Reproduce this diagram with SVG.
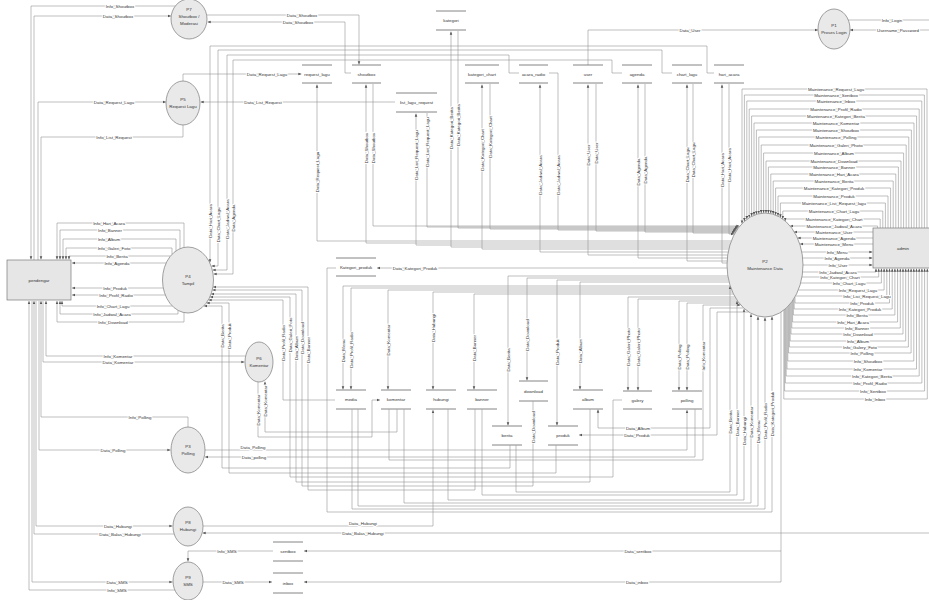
<svg xmlns="http://www.w3.org/2000/svg" width="929" height="600" viewBox="0 0 929 600" font-family="'Liberation Sans', Arial, sans-serif">
<defs>
<marker id="ah" viewBox="0 0 6 6" refX="6" refY="3" markerWidth="3.2" markerHeight="3.2" markerUnits="userSpaceOnUse" orient="auto"><path d="M0,0.6L6,3L0,5.4z" fill="#555"/></marker>
<style>
.c{fill:none;stroke:#939393;stroke-width:0.6}
.a{marker-end:url(#ah)}
text{font-family:'Liberation Sans',Arial,sans-serif}
.t{font-size:4.4px;fill:#333;text-anchor:middle}
.h{paint-order:stroke;stroke:#fff;stroke-width:2.2px;stroke-linejoin:round}
.pr{fill:#e9e9e9;stroke:#7a7a7a;stroke-width:0.7}
.bx{fill:#e6e6e6;stroke:#7a7a7a;stroke-width:0.7}
.ds{stroke:#666;stroke-width:0.8}
</style>
</defs>
<rect width="929" height="600" fill="#fff"/>
<g id="connectors">
<path class="c a" d="M175,6H31V259.5"/>
<path class="c a" d="M34,260V16H171"/>
<path class="c a" d="M38,260V102H166"/>
<path class="c a" d="M183,125V137H41V259.5"/>
<path class="c a" d="M207,15H359V64.5"/>
<path class="c a" d="M351,73H345V22H207.5"/>
<path class="c a" d="M183,81V74H301.5"/>
<path class="c a" d="M395,102H200.5"/>
<path class="c a" d="M588,65V30H818"/>
<path class="c" d="M848,20H929"/>
<path class="c a" d="M929,30H850"/>
<path class="c a" d="M714,73H707V46H210V262.5"/>
<path class="c a" d="M672,73H662V50H218V266H211.5"/>
<path class="c a" d="M519,73H509V55H227V270H212.5"/>
<path class="c a" d="M622,73H612V60H233V274H213.5"/>
<path class="c a" d="M184,247.2V223H57V259.5"/>
<path class="c a" d="M180,248.7V230H60V259.5"/>
<path class="c a" d="M176,251V239H63V259.5"/>
<path class="c a" d="M172,254.3V248H66V259.5"/>
<path class="c a" d="M170.5,256H69V259.5"/>
<path class="c a" d="M166,263H72"/>
<path class="c a" d="M163.3,288H72"/>
<path class="c a" d="M165.3,295H72"/>
<path class="c a" d="M172.3,306H62V301"/>
<path class="c a" d="M178,310.4V314H60V301"/>
<path class="c a" d="M184,312.8V322H57V301"/>
<path class="c a" d="M245.6,356H46V301"/>
<path class="c a" d="M43,301V362H244.5"/>
<path class="c a" d="M188,427V417H41V301"/>
<path class="c a" d="M39,301V450H170.5"/>
<path class="c a" d="M36,301V526H172.5"/>
<path class="c a" d="M174,534H34V301"/>
<path class="c a" d="M32,301V582H172.5"/>
<path class="c a" d="M175,590H29V301"/>
<path class="c a" d="M258,382V437H372V400H380"/>
<path class="c a" d="M397,409.5V432H265V381.5"/>
<path class="c a" d="M205,450H687V410"/>
<path class="c a" d="M695,409.5V457H205"/>
<path class="c a" d="M202,526H433V410"/>
<path class="c a" d="M929,533H202.5"/>
<path class="c a" d="M273,551H188V561.5"/>
<path class="c a" d="M203,582H272"/>
<path class="c a" d="M781,312V551H304"/>
<path class="c a" d="M781,551V582H304"/>
<path class="c a" d="M373,84V226H739.5"/>
<path class="c a" d="M427,113V227H738.5"/>
<path class="c a" d="M458,31V228H738"/>
<path class="c a" d="M490,84V229H737.3"/>
<path class="c a" d="M549,73H558V230H736.6"/>
<path class="c a" d="M596,84V231H736"/>
<path class="c a" d="M645,84V232H735.3"/>
<path class="c a" d="M693,84V233H734.7"/>
<path class="c a" d="M729,84V234H734.2"/>
<path class="c a" d="M731,241H317V84.5"/>
<path class="c a" d="M730.5,243H366V84.5"/>
<path class="c a" d="M730,245H416V113.5"/>
<path class="c a" d="M729.5,247H451V31.5"/>
<path class="c a" d="M729,249H482V84.5"/>
<path class="c a" d="M728.2,252H540V84.5"/>
<path class="c a" d="M727.7,255H588V84.5"/>
<path class="c a" d="M727.3,258H638V84.5"/>
<path class="c a" d="M727.1,261H687V84.5"/>
<path class="c a" d="M727,263H722V84.5"/>
<path class="c a" d="M727.1,268H377"/>
<path class="c a" d="M728,276H508V425.5"/>
<path class="c a" d="M728.2,278H527V380.5"/>
<path class="c a" d="M728.6,280H557V425.5"/>
<path class="c a" d="M729.1,282H580V389.5"/>
<path class="c a" d="M730.2,286H343V389.5"/>
<path class="c a" d="M730.9,288H351V389.5"/>
<path class="c a" d="M731.7,290H388V389.5"/>
<path class="c a" d="M732.5,292H433V389.5"/>
<path class="c a" d="M733.5,294H474V389.5"/>
<path class="c a" d="M735,297H628V390.5"/>
<path class="c a" d="M736.2,299H638V390.5"/>
<path class="c a" d="M737.6,301H679V390.5"/>
<path class="c a" d="M739,303H687V390.5"/>
<path class="c a" d="M516,445.5V492H730V286"/>
<path class="c a" d="M482,409.5V495H737V301"/>
<path class="c a" d="M448,409.5V500H744V309"/>
<path class="c a" d="M404,409.5V503H751V314"/>
<path class="c a" d="M358,409.5V506H758V316.6"/>
<path class="c a" d="M352,409.5V509H765V317.5"/>
<path class="c a" d="M336,268H327V512H772V316.6"/>
<path class="c a" d="M510,445.5V468H222V306H204"/>
<path class="c a" d="M556,445.5V473H229V303H206.5"/>
<path class="c a" d="M335,400H283V300H208.5"/>
<path class="c a" d="M622,400H613V477H290V297H210"/>
<path class="c a" d="M590,409.5V482H296V294H211"/>
<path class="c a" d="M533,401.5V486H302V290H212.3"/>
<path class="c a" d="M475,409.5V490H308V287H213"/>
<path class="c a" d="M743.6,308H710V428H598V409.5"/>
<path class="c a" d="M748.7,312H717V435H579"/>
<path class="c a" d="M389,409.5V460H703V305H740.5"/>
<path class="c a" d="M927,228V89H742V223.6"/>
<path class="c a" d="M924.4,228V95H744.4V221.3"/>
<path class="c a" d="M921.8,228V101H746.8V219.3"/>
<path class="c a" d="M919.2,228V109H749.2V217.7"/>
<path class="c a" d="M916.6,228V116H751.6V216.3"/>
<path class="c a" d="M914,228V123H754V215.2"/>
<path class="c a" d="M911.4,228V130H756.4V214.4"/>
<path class="c a" d="M908.8,228V137H758.8V213.7"/>
<path class="c a" d="M906.2,228V145H761.2V213.3"/>
<path class="c a" d="M903.6,228V153H763.6V213"/>
<path class="c a" d="M901,228V161H766V213"/>
<path class="c a" d="M898.4,228V167H768.4V213.2"/>
<path class="c a" d="M895.8,228V174H770.8V213.6"/>
<path class="c a" d="M893.2,228V181H773.2V214.2"/>
<path class="c a" d="M890.6,228V188H775.6V215.1"/>
<path class="c a" d="M888,228V196H778V216.1"/>
<path class="c a" d="M885.4,228V203H780.4V217.5"/>
<path class="c a" d="M882.8,228V211H782.8V219"/>
<path class="c a" d="M880.2,228V219H785.2V221"/>
<path class="c a" d="M877.6,228V226H790.1"/>
<path class="c a" d="M873,232H794"/>
<path class="c a" d="M873,238H797.5"/>
<path class="c a" d="M873,244H800"/>
<path class="c a" d="M801.8,252H872.5"/>
<path class="c a" d="M802.7,258H872.5"/>
<path class="c a" d="M803,265H872.5"/>
<path class="c a" d="M802.7,272H876V268.5"/>
<path class="c a" d="M802,277H878.7V268.5"/>
<path class="c a" d="M800.6,283H881.4V268.5"/>
<path class="c a" d="M798.3,290H884.1V268.5"/>
<path class="c a" d="M795.5,296H886.8V268.5"/>
<path class="c a" d="M795,296.9V303H889.5V268.5"/>
<path class="c a" d="M794.2,298.3V309H892.2V268.5"/>
<path class="c a" d="M793.4,299.5V315H894.9V268.5"/>
<path class="c a" d="M792.6,300.7V322H897.6V268.5"/>
<path class="c a" d="M791.8,301.9V328H900.3V268.5"/>
<path class="c a" d="M791,302.9V334H903V268.5"/>
<path class="c a" d="M790.2,303.9V341H905.7V268.5"/>
<path class="c a" d="M789.4,304.9V347H908.4V268.5"/>
<path class="c a" d="M788.6,305.8V353H911.1V268.5"/>
<path class="c a" d="M787.8,306.6V361H913.8V268.5"/>
<path class="c a" d="M787,307.4V369H916.5V268.5"/>
<path class="c a" d="M786.2,308.2V376H919.2V268.5"/>
<path class="c a" d="M785.4,308.9V383H921.9V268.5"/>
<path class="c a" d="M784.6,309.6V391H924.6V268.5"/>
<path class="c a" d="M783.8,310.2V399H927.3V268.5"/>
<g id="connector-labels">
<text class="t h" x="120" y="7.5">Info_Shoutbox</text>
<text class="t h" x="118" y="17.5">Data_Shoutbox</text>
<text class="t h" x="114" y="103.5">Data_Request_Lagu</text>
<text class="t h" x="114" y="138.5">Info_List_Request</text>
<text class="t h" x="302" y="16.5">Data_Shoutbox</text>
<text class="t h" x="298" y="23.5">Data_Shoutbox</text>
<text class="t h" x="267" y="75.5">Data_Request_Lagu</text>
<text class="t h" x="263" y="103.5">Data_List_Request</text>
<text class="t h" x="690" y="31.5">Data_User</text>
<text class="t h" x="892" y="21.5">Info_Login</text>
<text class="t h" x="898" y="31.5">Username_Password</text>
<text class="t h" transform="translate(210,221) rotate(-90)" y="1.5">Data_Hari_Acara</text>
<text class="t h" transform="translate(218,225) rotate(-90)" y="1.5">Data_Chart_Lagu</text>
<text class="t h" transform="translate(227,219) rotate(-90)" y="1.5">Data_Jadwal_Acara</text>
<text class="t h" transform="translate(233,218) rotate(-90)" y="1.5">Data_Agenda</text>
<text class="t h" x="109" y="224.5">Info_Hari_Acara</text>
<text class="t h" x="110" y="231.5">Info_Banner</text>
<text class="t h" x="109" y="240.5">Info_Album</text>
<text class="t h" x="114" y="249.5">Info_Galeri_Foto</text>
<text class="t h" x="117" y="257.5">Info_Berita</text>
<text class="t h" x="117" y="264.5">Info_Agenda</text>
<text class="t h" x="115" y="289.5">Info_Produk</text>
<text class="t h" x="116" y="296.5">Info_Profil_Radio</text>
<text class="t h" x="113" y="307.5">Info_Chart_Lagu</text>
<text class="t h" x="112" y="315.5">Info_Jadwal_Acara</text>
<text class="t h" x="113" y="323.5">Info_Download</text>
<text class="t h" x="118" y="357.5">Info_Komentar</text>
<text class="t h" x="118" y="363.5">Data_Komentar</text>
<text class="t h" x="140" y="418.5">Info_Polling</text>
<text class="t h" x="113" y="451.5">Data_Polling</text>
<text class="t h" x="118" y="527.5">Data_Hubungi</text>
<text class="t h" x="120" y="535.5">Data_Balas_Hubungi</text>
<text class="t h" x="117" y="583.5">Data_SMS</text>
<text class="t h" x="117" y="591.5">Info_SMS</text>
<text class="t h" transform="translate(258,410) rotate(-90)" y="1.5">Data_Komentar</text>
<text class="t h" transform="translate(265,401) rotate(-90)" y="1.5">Data_Komentar</text>
<text class="t h" x="253" y="449">Data_Polling</text>
<text class="t h" x="254" y="458.5">Data_polling</text>
<text class="t h" x="363" y="525">Data_Hubungi</text>
<text class="t h" x="363" y="534.5">Data_Balas_Hubungi</text>
<text class="t h" x="227" y="552.5">Info_SMS</text>
<text class="t h" x="233" y="583.5">Data_SMS</text>
<text class="t h" x="638" y="552.5">Data_sentbox</text>
<text class="t h" x="637" y="583.5">Data_inbox</text>
<text class="t h" transform="translate(317,172) rotate(-90)" y="1.5">Data_Request_Lagu</text>
<text class="t h" transform="translate(366,148) rotate(-90)" y="1.5">Data_Shoutbox</text>
<text class="t h" transform="translate(373,148) rotate(-90)" y="1.5">Data_Shoutbox</text>
<text class="t h" transform="translate(416,155) rotate(-90)" y="1.5">Data_List_Request_Lagu</text>
<text class="t h" transform="translate(427,142) rotate(-90)" y="1.5">Data_List_Request_Lagu</text>
<text class="t h" transform="translate(451,128) rotate(-90)" y="1.5">Data_Kategori_Berita</text>
<text class="t h" transform="translate(458,125) rotate(-90)" y="1.5">Data_Kategori_Berita</text>
<text class="t h" transform="translate(482,150) rotate(-90)" y="1.5">Data_Kategori_Chart</text>
<text class="t h" transform="translate(490,137) rotate(-90)" y="1.5">Data_Kategori_Chart</text>
<text class="t h" transform="translate(540,175) rotate(-90)" y="1.5">Data_Jadwal_Acara</text>
<text class="t h" transform="translate(558,175) rotate(-90)" y="1.5">Data_Jadwal_Acara</text>
<text class="t h" transform="translate(588,155) rotate(-90)" y="1.5">Data_User</text>
<text class="t h" transform="translate(596,153) rotate(-90)" y="1.5">Data_User</text>
<text class="t h" transform="translate(638,172) rotate(-90)" y="1.5">Data_Agenda</text>
<text class="t h" transform="translate(645,170) rotate(-90)" y="1.5">Data_Agenda</text>
<text class="t h" transform="translate(687,165) rotate(-90)" y="1.5">Data_Chart_Lagu</text>
<text class="t h" transform="translate(693,160) rotate(-90)" y="1.5">Data_Chart_Lagu</text>
<text class="t h" transform="translate(722,170) rotate(-90)" y="1.5">Data_Hari_Acara</text>
<text class="t h" transform="translate(729,165) rotate(-90)" y="1.5">Data_Hari_Acara</text>
<text class="t h" x="415" y="269.5">Data_Kategori_Produk</text>
<text class="t h" transform="translate(343,351) rotate(-90)" y="1.5">Data_Menu</text>
<text class="t h" transform="translate(351,350) rotate(-90)" y="1.5">Data_Profil_Radio</text>
<text class="t h" transform="translate(388,340) rotate(-90)" y="1.5">Data_Komentar</text>
<text class="t h" transform="translate(433,328) rotate(-90)" y="1.5">Data_Hubungi</text>
<text class="t h" transform="translate(474,348) rotate(-90)" y="1.5">Data_Banner</text>
<text class="t h" transform="translate(508,360) rotate(-90)" y="1.5">Data_Berita</text>
<text class="t h" transform="translate(527,335) rotate(-90)" y="1.5">Data_Download</text>
<text class="t h" transform="translate(557,352) rotate(-90)" y="1.5">Data_Produk</text>
<text class="t h" transform="translate(580,351) rotate(-90)" y="1.5">Data_Album</text>
<text class="t h" transform="translate(628,347) rotate(-90)" y="1.5">Data_Galeri_Photo</text>
<text class="t h" transform="translate(638,347) rotate(-90)" y="1.5">Data_Galeri_Photo</text>
<text class="t h" transform="translate(679,357) rotate(-90)" y="1.5">Data_Polling</text>
<text class="t h" transform="translate(687,357) rotate(-90)" y="1.5">Data_Polling</text>
<text class="t h" transform="translate(222,336) rotate(-90)" y="1.5">Data_Berita</text>
<text class="t h" transform="translate(229,336) rotate(-90)" y="1.5">Data_Produk</text>
<text class="t h" transform="translate(283,343) rotate(-90)" y="1.5">Data_Profil_Radio</text>
<text class="t h" transform="translate(290,335) rotate(-90)" y="1.5">Data_Galeri_Foto</text>
<text class="t h" transform="translate(296,348) rotate(-90)" y="1.5">Data_Album</text>
<text class="t h" transform="translate(302,338) rotate(-90)" y="1.5">Data_Download</text>
<text class="t h" transform="translate(308,350) rotate(-90)" y="1.5">Data_Banner</text>
<text class="t h" transform="translate(533,427) rotate(-90)" y="1.5">Data_Download</text>
<text class="t h" transform="translate(730,422) rotate(-90)" y="1.5">Data_Berita</text>
<text class="t h" transform="translate(737,423) rotate(-90)" y="1.5">Data_Banner</text>
<text class="t h" transform="translate(744,431) rotate(-90)" y="1.5">Data_Hubungi</text>
<text class="t h" transform="translate(751,422) rotate(-90)" y="1.5">Data_Komentar</text>
<text class="t h" transform="translate(758,432) rotate(-90)" y="1.5">Data_Menu</text>
<text class="t h" transform="translate(765,421) rotate(-90)" y="1.5">Data_Profil_Radio</text>
<text class="t h" transform="translate(772,414) rotate(-90)" y="1.5">Data_Kategori_Produk</text>
<text class="t h" x="638" y="429.5">Data_Album</text>
<text class="t h" x="637" y="436.5">Data_Produk</text>
<text class="t h" transform="translate(703,356) rotate(-90)" y="1.5">Info_Komentar</text>
<text class="t h" x="836" y="90.5">Maintenance_Request_Lagu</text>
<text class="t h" x="836" y="96.5">Maintenance_Sentbox</text>
<text class="t h" x="836" y="102.5">Maintenance_Inbox</text>
<text class="t h" x="836" y="110.5">Maintenance_Profil_Radio</text>
<text class="t h" x="836" y="117.5">Maintenance_Kategori_Berita</text>
<text class="t h" x="836" y="124.5">Maintenance_Komentar</text>
<text class="t h" x="836" y="131.5">Maintenance_Shoutbox</text>
<text class="t h" x="836" y="138.5">Maintenance_Polling</text>
<text class="t h" x="836" y="146.5">Maintenance_Galeri_Photo</text>
<text class="t h" x="834" y="154.5">Maintenance_Album</text>
<text class="t h" x="834" y="162.5">Maintenance_Download</text>
<text class="t h" x="834" y="168.5">Maintenance_Banner</text>
<text class="t h" x="834" y="175.5">Maintenance_Hari_Acara</text>
<text class="t h" x="834" y="182.5">Maintenance_Berita</text>
<text class="t h" x="834" y="189.5">Maintenance_Kategori_Produk</text>
<text class="t h" x="834" y="197.5">Maintenance_Produk</text>
<text class="t h" x="834" y="204.5">Maintenance_List_Request_lagu</text>
<text class="t h" x="834" y="212.5">Maintenance_Chart_Lagu</text>
<text class="t h" x="834" y="220.5">Maintenance_Kategori_Chart</text>
<text class="t h" x="834" y="227.5">Maintenance_Jadwal_Acara</text>
<text class="t h" x="834" y="233.5">Maintenance_User</text>
<text class="t h" x="834" y="239.5">Maintenance_Agenda</text>
<text class="t h" x="834" y="245.5">Maintenance_Menu</text>
<text class="t h" x="837" y="253.5">Info_Menu</text>
<text class="t h" x="837" y="259.5">Info_Agenda</text>
<text class="t h" x="838" y="266.5">Info_User</text>
<text class="t h" x="838" y="273.5">Info_Jadwal_Acara</text>
<text class="t h" x="840" y="278.5">Info_Kategori_Chart</text>
<text class="t h" x="849" y="284.5">Info_Chart_Lagu</text>
<text class="t h" x="858" y="291.5">Info_Request_Lagu</text>
<text class="t h" x="867" y="297.5">Info_List_Request_Lagu</text>
<text class="t h" x="862" y="304.5">Info_Produk</text>
<text class="t h" x="860" y="310.5">Info_Kategori_Produk</text>
<text class="t h" x="857" y="316.5">Info_Berita</text>
<text class="t h" x="853" y="323.5">Info_Hari_Acara</text>
<text class="t h" x="857" y="329.5">Info_Banner</text>
<text class="t h" x="858" y="335.5">Info_Download</text>
<text class="t h" x="858" y="342.5">Info_Album</text>
<text class="t h" x="860" y="348.5">Info_Galery_Foto</text>
<text class="t h" x="862" y="354.5">Info_Polling</text>
<text class="t h" x="868" y="362.5">Info_Shoutbox</text>
<text class="t h" x="868" y="370.5">Info_Komentar</text>
<text class="t h" x="872" y="377.5">Info_Kategori_Berita</text>
<text class="t h" x="870" y="384.5">Info_Profil_Radio</text>
<text class="t h" x="873" y="392.5">Info_Sentbox</text>
<text class="t h" x="875" y="400.5">Info_Inbox</text>
</g>
</g>
<g id="pendengar"><rect class="bx" x="7" y="260" width="64" height="40"/><text class="t" x="39" y="281.5">pendengar</text></g>
<g id="admin"><rect class="bx" x="873" y="228" width="60" height="40"/><text class="t" x="903" y="249.5">admin</text></g>
<g id="p7"><ellipse class="pr" cx="189" cy="19" rx="18" ry="20"/><text class="t" x="189" y="10.5">P7</text><text class="t" x="189" y="17.5">Shoutbox /</text><text class="t" x="189" y="24.5">Moderasi</text></g>
<g id="p5"><ellipse class="pr" cx="183" cy="103" rx="17" ry="22"/><text class="t" x="183" y="100.5">P5</text><text class="t" x="183" y="107.5">Request Lagu</text></g>
<g id="p1"><ellipse class="pr" cx="834" cy="29" rx="16" ry="20"/><text class="t" x="834" y="27">P1</text><text class="t" x="834" y="34">Proses Login</text></g>
<g id="p4"><ellipse class="pr" cx="188" cy="280" rx="25.5" ry="33"/><text class="t" x="188" y="277.5">P4</text><text class="t" x="188" y="284.5">Tampil</text></g>
<g id="p6"><ellipse class="pr" cx="259" cy="362" rx="14" ry="20"/><text class="t" x="259" y="359.5">P6</text><text class="t" x="259" y="366.5">Komentar</text></g>
<g id="p3"><ellipse class="pr" cx="188" cy="450" rx="17" ry="23"/><text class="t" x="188" y="447.5">P3</text><text class="t" x="188" y="454.5">Polling</text></g>
<g id="p8"><ellipse class="pr" cx="188" cy="526.5" rx="15" ry="19.5"/><text class="t" x="188" y="524">P8</text><text class="t" x="188" y="531">Hubungi</text></g>
<g id="p9"><ellipse class="pr" cx="188" cy="581" rx="15" ry="19"/><text class="t" x="188" y="579">P9</text><text class="t" x="188" y="586">SMS</text></g>
<g id="p2"><ellipse class="pr" cx="765" cy="265" rx="38" ry="52"/><text class="t" x="765" y="263">P2</text><text class="t" x="765" y="270">Maintenance Data</text></g>
<g id="store-kategori"><line class="ds" x1="436" y1="11" x2="466" y2="11"/><line class="ds" x1="436" y1="30" x2="466" y2="30"/><text class="t" x="451" y="22">kategori</text></g>
<g id="store-request_lagu"><line class="ds" x1="302" y1="65" x2="332" y2="65"/><line class="ds" x1="302" y1="83" x2="332" y2="83"/><text class="t" x="317" y="75.5">request_lagu</text></g>
<g id="store-shoutbox"><line class="ds" x1="352" y1="65" x2="381" y2="65"/><line class="ds" x1="352" y1="83" x2="381" y2="83"/><text class="t" x="366.5" y="75.5">shoutbox</text></g>
<g id="store-list_lagu_request"><line class="ds" x1="396" y1="93" x2="437" y2="93"/><line class="ds" x1="396" y1="112" x2="437" y2="112"/><text class="t" x="416.5" y="104">list_lagu_request</text></g>
<g id="store-kategori_chart"><line class="ds" x1="465" y1="65" x2="499" y2="65"/><line class="ds" x1="465" y1="83" x2="499" y2="83"/><text class="t" x="482" y="75.5">kategori_chart</text></g>
<g id="store-acara_radio"><line class="ds" x1="519" y1="65" x2="548" y2="65"/><line class="ds" x1="519" y1="83" x2="548" y2="83"/><text class="t" x="533.5" y="75.5">acara_radio</text></g>
<g id="store-user"><line class="ds" x1="573" y1="65" x2="603" y2="65"/><line class="ds" x1="573" y1="83" x2="603" y2="83"/><text class="t" x="588" y="75.5">user</text></g>
<g id="store-agenda"><line class="ds" x1="622" y1="65" x2="652" y2="65"/><line class="ds" x1="622" y1="83" x2="652" y2="83"/><text class="t" x="637" y="75.5">agenda</text></g>
<g id="store-chart_lagu"><line class="ds" x1="672" y1="65" x2="702" y2="65"/><line class="ds" x1="672" y1="83" x2="702" y2="83"/><text class="t" x="687" y="75.5">chart_lagu</text></g>
<g id="store-hari_acara"><line class="ds" x1="714" y1="65" x2="744" y2="65"/><line class="ds" x1="714" y1="83" x2="744" y2="83"/><text class="t" x="729" y="75.5">hari_acara</text></g>
<g id="store-kategori_produk"><line class="ds" x1="336" y1="258" x2="376" y2="258"/><line class="ds" x1="336" y1="276" x2="376" y2="276"/><text class="t" x="356" y="269">Kategori_produk</text></g>
<g id="store-media"><line class="ds" x1="336" y1="390" x2="366" y2="390"/><line class="ds" x1="336" y1="409" x2="366" y2="409"/><text class="t" x="351" y="401">media</text></g>
<g id="store-komentar"><line class="ds" x1="381" y1="390" x2="411" y2="390"/><line class="ds" x1="381" y1="409" x2="411" y2="409"/><text class="t" x="396" y="401">komentar</text></g>
<g id="store-hubungi"><line class="ds" x1="426" y1="390" x2="456" y2="390"/><line class="ds" x1="426" y1="409" x2="456" y2="409"/><text class="t" x="441" y="401">hubungi</text></g>
<g id="store-banner"><line class="ds" x1="467" y1="390" x2="497" y2="390"/><line class="ds" x1="467" y1="409" x2="497" y2="409"/><text class="t" x="482" y="401">banner</text></g>
<g id="store-download"><line class="ds" x1="519" y1="381" x2="548" y2="381"/><line class="ds" x1="519" y1="401" x2="548" y2="401"/><text class="t" x="533.5" y="392.5">download</text></g>
<g id="store-berita"><line class="ds" x1="492" y1="426" x2="522" y2="426"/><line class="ds" x1="492" y1="445" x2="522" y2="445"/><text class="t" x="507" y="437">berita</text></g>
<g id="store-produk"><line class="ds" x1="548" y1="426" x2="578" y2="426"/><line class="ds" x1="548" y1="445" x2="578" y2="445"/><text class="t" x="563" y="437">produk</text></g>
<g id="store-album"><line class="ds" x1="573" y1="390" x2="603" y2="390"/><line class="ds" x1="573" y1="409" x2="603" y2="409"/><text class="t" x="588" y="401">album</text></g>
<g id="store-galery"><line class="ds" x1="623" y1="391" x2="652" y2="391"/><line class="ds" x1="623" y1="409" x2="652" y2="409"/><text class="t" x="637.5" y="401.5">galery</text></g>
<g id="store-polling"><line class="ds" x1="672" y1="391" x2="702" y2="391"/><line class="ds" x1="672" y1="409" x2="702" y2="409"/><text class="t" x="687" y="401.5">polling</text></g>
<g id="store-sentbox"><line class="ds" x1="273" y1="542" x2="303" y2="542"/><line class="ds" x1="273" y1="561" x2="303" y2="561"/><text class="t" x="288" y="553">sentbox</text></g>
<g id="store-inbox"><line class="ds" x1="273" y1="573" x2="303" y2="573"/><line class="ds" x1="273" y1="593" x2="303" y2="593"/><text class="t" x="288" y="584.5">inbox</text></g>
</svg>
